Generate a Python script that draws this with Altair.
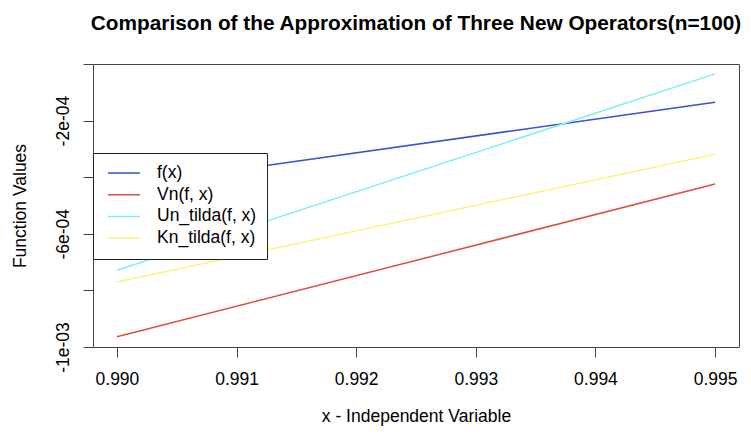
import altair as alt
import pandas as pd

series = ["f(x)", "Vn(f, x)", "Un_tilda(f, x)", "Kn_tilda(f, x)"]
colors = ["#3d4fd3", "#d9503c", "#80eef4", "#fff27a"]
x_vals = [0.990, 0.995]
f_vals = [-4.33e-4, -1.35e-4]
vn_vals = [-9.64e-4, -4.24e-4]
un_vals = [-7.29e-4, -3.5e-5]
kn_vals = [-7.70e-4, -3.19e-4]

x_ticks = [0.990, 0.991, 0.992, 0.993, 0.994, 0.995]
y_ticks = [0.0, -2e-4, -4e-4, -6e-4, -8e-4, -1e-3]
y_tick_labels = ["", "-2e-04", "", "-6e-04", "", "-1e-03"]

rows = []
for name, vals in zip(series, [f_vals, vn_vals, un_vals, kn_vals]):
    for xv, yv in zip(x_vals, vals):
        rows.append({"series": name, "x": xv, "y": yv})
df = pd.DataFrame(rows)

label_expr = ""
for v, lab in zip(y_ticks, y_tick_labels):
    label_expr += f"round(datum.value*1e5) == {round(v * 1e5)} ? '{lab}' : "
label_expr += "''"

FONT = "Liberation Sans"
FS = 17.5

chart = alt.Chart(df).mark_line(strokeWidth=1.5).encode(
    x=alt.X(
        "x:Q",
        scale=alt.Scale(domain=[0.9898, 0.9952], nice=False, zero=False),
        axis=alt.Axis(
            values=x_ticks, format=".3f", title="x - Independent Variable",
            grid=False, domain=False, tickSize=10, tickColor="#444",
            labelFontSize=FS, labelFont=FONT, labelColor="black", labelPadding=13,
            labelFlush=False, titleFontSize=FS, titleFont=FONT, titleColor="black",
            titleFontWeight="normal", titlePadding=20,
        ),
    ),
    y=alt.Y(
        "y:Q",
        scale=alt.Scale(domain=[-0.001, 0.0], nice=False, zero=False),
        axis=alt.Axis(
            values=y_ticks, labelExpr=label_expr, title="Function Values",
            grid=False, domain=False, tickSize=10, tickColor="#444",
            labelFontSize=FS, labelFont=FONT, labelColor="black", labelPadding=11,
            labelAngle=270, labelAlign="center", labelBaseline="bottom",
            labelFlush=False, labelOverlap=False,
            titleFontSize=FS, titleFont=FONT, titleColor="black",
            titleFontWeight="normal", titlePadding=25,
        ),
    ),
    color=alt.Color(
        "series:N",
        scale=alt.Scale(domain=series, range=colors),
        legend=alt.Legend(
            title=None, orient="none", legendX=0, legendY=89,
            symbolType="stroke", symbolSize=1024, symbolStrokeWidth=1.5,
            symbolOffset=4, labelOffset=16, labelFontSize=FS, labelFont=FONT,
            labelColor="black", padding=10, clipHeight=20, rowPadding=1.7,
            strokeColor="#222", fillColor="white", cornerRadius=0,
        ),
    ),
    order=alt.Order("x:Q"),
).properties(
    width=646,
    height=283,
    title=alt.TitleParams(
        "Comparison of the Approximation of Three New Operators(n=100)",
        fontSize=20.8, font=FONT, fontWeight="bold", color="black",
        anchor="middle", offset=29,
    ),
    autosize=alt.AutoSizeParams(type="none"),
    padding={"left": 85, "top": 56, "right": 4, "bottom": 79},
).configure_view(stroke="#444", strokeWidth=1)

chart.save("out.html", embed_options={"renderer": "svg", "actions": False})
